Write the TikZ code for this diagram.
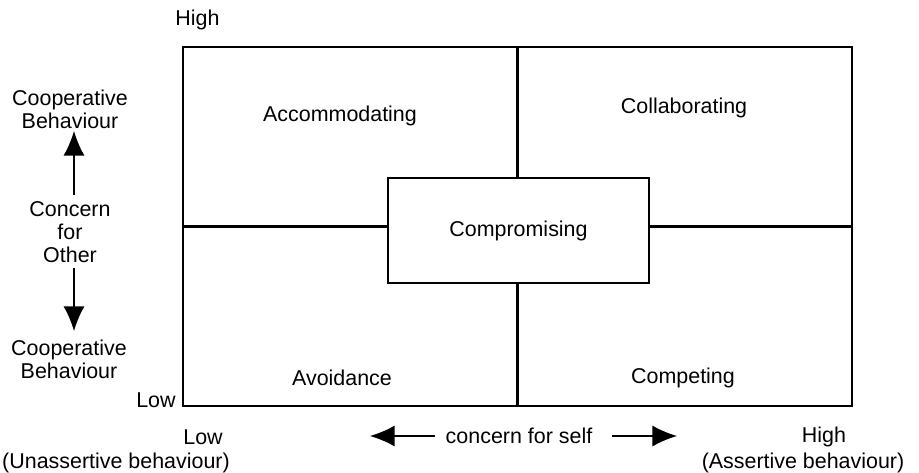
\documentclass[tikz,border=0pt]{standalone}
\usepackage{fontspec}
\setmainfont{Liberation Sans}
\usetikzlibrary{arrows.meta}

\tikzset{
    lbl/.style={inner sep=0pt, align=center, font=\fontsize{12.2}{13.2}\selectfont},
    box/.style={draw, line width=1.3pt, inner sep=0pt},
    rule/.style={line width=1.3pt},
    axis/.style={line width=0.8pt, -{Latex[length=14pt, width=12pt]}}
}

\begin{document}
\begin{tikzpicture}[x=0.02cm, y=-0.02cm]
        \useasboundingbox (0,0) rectangle (919,473);

        % frame and middle box
        \node[box, minimum width=13.38cm, minimum height=7.18cm] (grid) at (517.5,226.5) {};
        \node[box, fill=white, minimum width=5.22cm, minimum height=2.1cm, lbl] (comp) at (518.5,230.8) {Compromising};

        \draw[rule] (grid.north) -- (grid.north |- comp.north);
        \draw[rule] (grid.south) -- (grid.south |- comp.south);
        \draw[rule] (grid.west) -- (comp.west |- grid.west);
        \draw[rule] (grid.east) -- (comp.east |- grid.east);

        % styles
        \node[lbl] (acc) at (340,116) {Accommodating};
        \node[lbl] (col) at (684,108) {Collaborating};
        \node[lbl] (avo) at (342,378) {Avoidance};
        \node[lbl] (cmp) at (683,378) {Competing};

        % vertical axis
        \node[lbl, anchor=west] (hiY) at (175,20) {High};
        \node[lbl, anchor=east] (loY) at (176,400) {Low};
        \node[lbl] (coopup) at (70,109) {Cooperative\\Behaviour};
        \node[lbl] (other) at (70,232) {Concern\\for\\Other};
        \node[lbl] (coopdn) at (69,359) {Cooperative\\Behaviour};

        \coordinate (upS) at (74,195);
        \coordinate (upE) at (74,131);
        \coordinate (dnS) at (74,268);
        \coordinate (dnE) at (74,331);
        \draw[axis] (upS) -- (upE);
        \draw[axis] (dnS) -- (dnE);

        % horizontal axis
        \node[lbl, anchor=west] (loX) at (183,437) {Low};
        \node[lbl] (unas) at (116,463) {(Unassertive behaviour)};
        \node[lbl] (self) at (519,436) {concern for self};
        \node[lbl] (hiX) at (824,437) {High};
        \node[lbl] (asrt) at (803,463) {(Assertive behaviour)};

        \coordinate (lfS) at (435,436);
        \coordinate (lfE) at (370,436);
        \coordinate (rtS) at (612,436);
        \coordinate (rtE) at (677,436);
        \draw[axis] (lfS) -- (lfE);
        \draw[axis] (rtS) -- (rtE);
    \end{tikzpicture}
\end{document}
